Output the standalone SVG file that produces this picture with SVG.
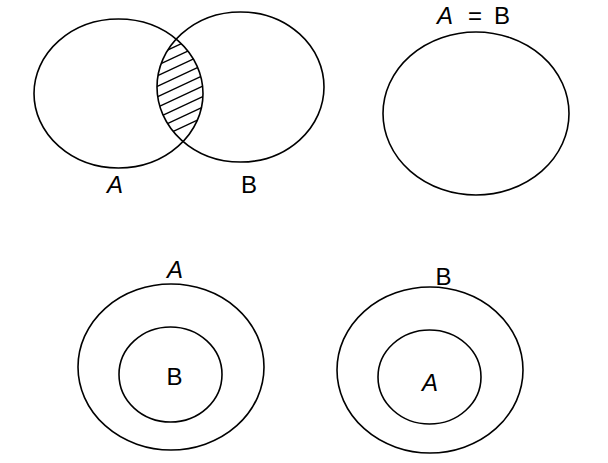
<svg xmlns="http://www.w3.org/2000/svg" width="608" height="463" viewBox="0 0 608 463">
<style>
.set{fill:none;stroke:#000;stroke-width:1.6}
.hatch{stroke:#000;stroke-width:1.4}
.lbl{font-family:"Liberation Sans",Arial,sans-serif;font-size:24px;fill:#000;text-anchor:middle}
.it{font-style:italic}
</style>
<defs>
<clipPath id="clipA"><ellipse cx="118.5" cy="93.5" rx="84.5" ry="74.5"/></clipPath>
<clipPath id="clipB"><ellipse cx="240.5" cy="87" rx="83.5" ry="75"/></clipPath>
</defs>
<rect width="608" height="463" fill="#fff"/>
<g id="venn-intersection">
<g id="hatch" clip-path="url(#clipA)">
<g clip-path="url(#clipB)">
<line class="hatch" x1="150" y1="58.3" x2="210" y2="30.3"/>
<line class="hatch" x1="150" y1="68.8" x2="210" y2="40.8"/>
<line class="hatch" x1="150" y1="79.3" x2="210" y2="51.3"/>
<line class="hatch" x1="150" y1="89.8" x2="210" y2="61.8"/>
<line class="hatch" x1="150" y1="100.3" x2="210" y2="72.3"/>
<line class="hatch" x1="150" y1="110.8" x2="210" y2="82.8"/>
<line class="hatch" x1="150" y1="121.3" x2="210" y2="93.3"/>
<line class="hatch" x1="150" y1="131.8" x2="210" y2="103.8"/>
<line class="hatch" x1="150" y1="142.3" x2="210" y2="114.3"/>
</g>
</g>
<g id="setA1"><ellipse class="set" cx="118.5" cy="93.5" rx="84.5" ry="74.5"/><text class="lbl it" x="115" y="193">A</text></g>
<g id="setB1"><ellipse class="set" cx="240.5" cy="87" rx="83.5" ry="75"/><text class="lbl" x="249" y="193">B</text></g>
</g>
<g id="equal-sets">
<ellipse class="set" cx="476" cy="113.5" rx="93" ry="81.5"/>
<text class="lbl" y="24"><tspan class="it" x="445">A</tspan><tspan x="475">=</tspan><tspan x="502">B</tspan></text>
</g>
<g id="B-subset-A">
<ellipse class="set" cx="171" cy="367" rx="93" ry="83"/>
<ellipse class="set" cx="170.5" cy="374.5" rx="51.5" ry="47.5"/>
<text class="lbl it" x="175" y="278">A</text>
<text class="lbl" x="174.5" y="385">B</text>
</g>
<g id="A-subset-B">
<ellipse class="set" cx="430" cy="370" rx="93" ry="83"/>
<ellipse class="set" cx="429.5" cy="377" rx="51.5" ry="47"/>
<text class="lbl" x="443.5" y="285">B</text>
<text class="lbl it" x="430" y="391">A</text>
</g>
<g id="connectors"/>
</svg>
